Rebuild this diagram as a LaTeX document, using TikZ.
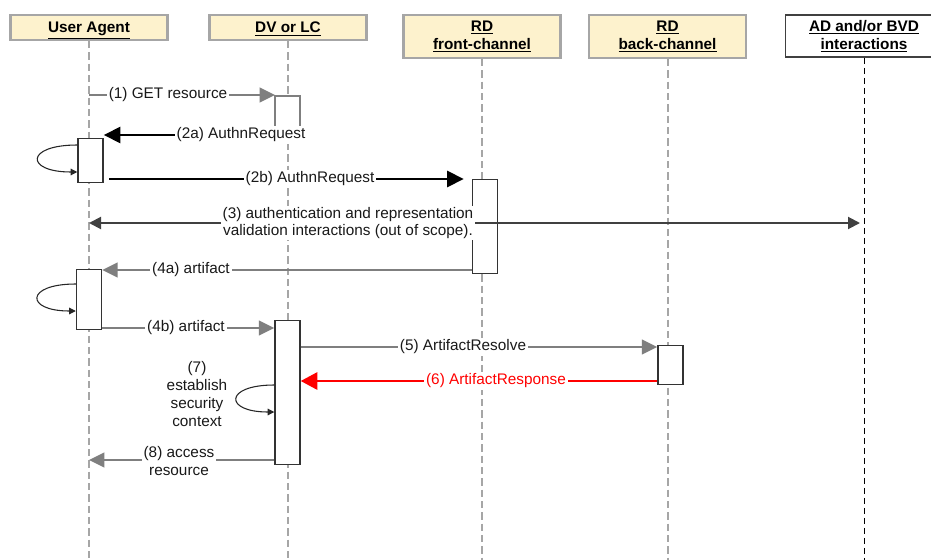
\documentclass[tikz,border=0pt]{standalone}
\usepackage{fontspec}
\setmainfont{Liberation Sans}
\usetikzlibrary{arrows.meta}

\definecolor{hdrfill}{HTML}{FDF2CD}
\definecolor{hdrline}{HTML}{A6A6A6}
\definecolor{lifegray}{HTML}{A6A6A6}
\definecolor{msggray}{HTML}{7F7F7F}
\definecolor{darkmsg}{HTML}{404040}
\definecolor{msgred}{HTML}{FF0000}

\newcommand\pxu{0.75pt}
\newcommand\msgfont{\fontsize{11.5pt}{13pt}\selectfont}
\newcommand\hdrfont{\fontsize{11.5pt}{13.5pt}\selectfont\bfseries}

\begin{document}
\begin{tikzpicture}[x=0.75pt,y=-0.75pt,
  hdr/.style={draw=hdrline, fill=hdrfill, line width=1.6pt, minimum width=157*\pxu,
    align=center, font=\hdrfont, inner sep=0pt},
  hdrone/.style={hdr, minimum height=25*\pxu, text height=10pt, text depth=2pt},
  hdrwhite/.style={hdr, draw=darkmsg, fill=white, line width=1.2pt},
  life/.style={draw=lifegray, line width=1.5pt, dash pattern=on 5.5pt off 3pt},
  lifeblack/.style={draw=black, line width=0.6pt, dash pattern=on 5pt off 2.5pt},
  actbox/.style={draw=black!80, fill=white, line width=1.1pt, minimum width=25*\pxu,
    inner sep=0pt, anchor=north},
  gmsg/.style={draw=msggray, line width=1.6pt, -{Triangle[length=11.5pt,width=11pt]}},
  bmsg/.style={draw=black, line width=2pt, -{Triangle[length=12.5pt,width=12pt]}},
  dmsg/.style={draw=darkmsg, line width=1.5pt, {Triangle[length=9pt,width=9pt]}-{Triangle[length=9pt,width=9pt]}},
  rmsg/.style={draw=msgred, line width=1.6pt, -{Triangle[length=12.5pt,width=13pt]}},
  selfloop/.style={draw=black!85, line width=0.8pt, -{Triangle[length=5pt,width=5pt]}},
  lbl/.style={fill=white, inner sep=1.5pt, font=\msgfont, align=center, text=black!90},
]
\clip (0,0) rectangle (931,560);
\fill[white] (0,0) rectangle (931,560);

% participants
\node[hdrone] (ua) at (89,27.5) {\underline{User Agent}};
\node[hdrone] (dv) at (288,27.5) {\underline{DV or LC}};
\node[hdr, minimum height=43*\pxu] (fc) at (482,36.5) {\underline{RD}\\\underline{front-channel}};
\node[hdr, minimum height=43*\pxu] (bc) at (667.5,36.5) {\underline{RD}\\\underline{back-channel}};
\node[hdrwhite, minimum height=42*\pxu] (ad) at (864,36) {\underline{AD and/or BVD}\\\underline{interactions}};

% lifelines
\coordinate (bot) at (0,562);
\draw[life] (ua.south) -- (ua.south |- bot);
\draw[life] (dv.south) -- (dv.south |- bot);
\draw[life] (fc.south) -- (fc.south |- bot);
\draw[life] (bc.south) -- (bc.south |- bot);
\draw[lifeblack] (ad.south) -- (ad.south |- bot);

% message rows
\coordinate (r1) at (0,95);
\coordinate (r2a) at (0,135);
\coordinate (r2b) at (0,179);
\coordinate (r3) at (0,223);
\coordinate (r4a) at (0,270);
\coordinate (r4b) at (0,328);
\coordinate (r5) at (0,347);
\coordinate (r6) at (0,381);
\coordinate (r8) at (0,460);
\coordinate (l1a) at (0,145);
\coordinate (l1b) at (0,172);
\coordinate (l2a) at (0,284);
\coordinate (l2b) at (0,311);
\coordinate (l7a) at (0,385);
\coordinate (l7b) at (0,412);

% open activation on DV for the first request
\coordinate (dvin) at (275,96);
\coordinate (dvopen) at (300,96);
\fill[white] (275,96) rectangle (300,127);
\draw[draw=msggray, line width=1.5pt] (275,127) -- (dvin) -- (dvopen) -- (300,127);

% activation boxes
\node[actbox, minimum height=44*\pxu] (ua1) at (90.5,138) {};
\node[actbox, minimum height=60*\pxu] (ua2) at (89,269) {};
\node[actbox, minimum height=94*\pxu] (fc1) at (485,179) {};
\node[actbox, minimum height=144*\pxu] (dv1) at (287.5,320) {};
\node[actbox, minimum height=39*\pxu] (bc1) at (670.5,345) {};

% (1)
\draw[gmsg] (ua.south |- r1) -- (dvin |- r1);
\node[lbl] (t1) at (168,95) {(1) GET resource};

% (2a)
\draw[bmsg] (dvopen |- r2a) -- (ua1.east |- r2a);
\node[lbl] (t2a) at (241,135) {(2a) AuthnRequest};
\draw[selfloop] (ua1.west |- l1a) .. controls (25,145) and (25,172) .. (ua1.west |- l1b);

% (2b)
\draw[bmsg, shorten >=6pt, shorten <=4pt] (ua1.east |- r2b) -- (fc1.west |- r2b);
\node[lbl] (t2b) at (310,179) {(2b) AuthnRequest};

% (3)
\draw[dmsg, shorten >=3pt] (ua.south |- r3) -- (ad.south |- r3);
\node[lbl, inner sep=1pt] (t3) at (348,223) {(3) authentication and representation\\validation interactions (out of scope).};

% (4a)
\draw[gmsg] (fc1.west |- r4a) -- (ua2.east |- r4a);
\node[lbl] (t4a) at (191,270) {(4a) artifact};
\draw[selfloop] (ua2.west |- l2a) .. controls (25,284) and (25,311) .. (ua2.west |- l2b);

% (4b)
\draw[gmsg] (ua2.east |- r4b) -- (dv1.west |- r4b);
\node[lbl] (t4b) at (186,328) {(4b) artifact};

% (5)
\draw[gmsg] (dv1.east |- r5) -- (bc1.west |- r5);
\node[lbl] (t5) at (463,347) {(5) ArtifactResolve};

% (6)
\draw[rmsg] (bc1.west |- r6) -- (dv1.east |- r6);
\node[lbl, text=msgred] (t6) at (496,381) {(6) ArtifactResponse};

% (7)
\draw[selfloop] (dv1.west |- l7a) .. controls (224,385) and (224,412) .. (dv1.west |- l7b);
\node[lbl, fill=none, font=\fontsize{11.5pt}{13.5pt}\selectfont] (t7) at (197,394) {(7)\\establish\\security\\context};

% (8)
\draw[gmsg] (dv1.west |- r8) -- (ua.south |- r8);
\node[lbl] (t8) at (179,461) {(8) access\\resource};
\end{tikzpicture}
\end{document}
